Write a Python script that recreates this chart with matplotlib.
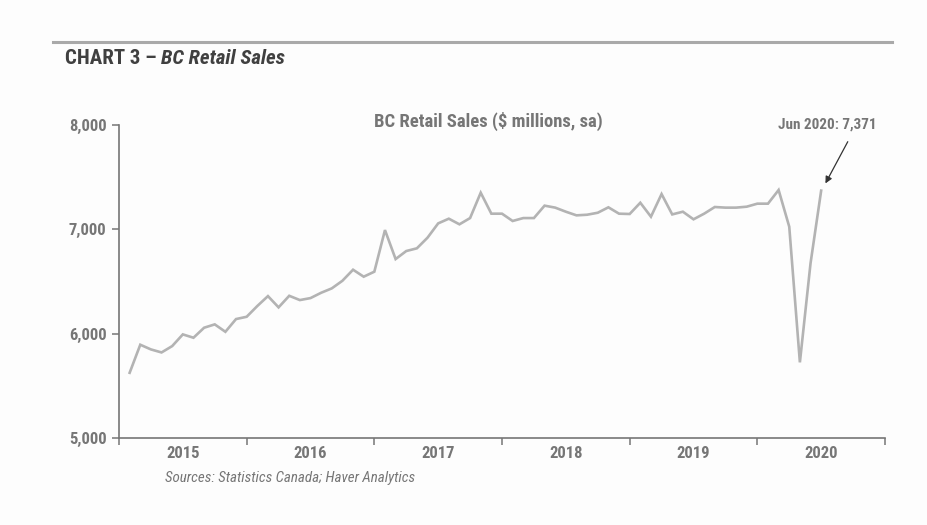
import numpy as np
import matplotlib.pyplot as plt

# BC retail sales, $ millions sa, Jan 2015 - Jun 2020
sales = [
    5625, 5894, 5849, 5820, 5881, 5993, 5961, 6057, 6089, 6018, 6140, 6162,
    6265, 6360, 6252, 6363, 6322, 6341, 6392, 6434, 6507, 6613, 6546, 6594,
    6993, 6715, 6792, 6818, 6920, 7057, 7102, 7048, 7108, 7351, 7150, 7150,
    7080, 7108, 7108, 7227, 7208, 7169, 7134, 7140, 7159, 7211, 7150, 7147,
    7255, 7121, 7338, 7143, 7169, 7096, 7150, 7214, 7208, 7208, 7217, 7246,
    7246, 7377, 7025, 5725, 6674, 7371,
]
years = ["2015", "2016", "2017", "2018", "2019", "2020"]
y_ticks = [5000, 6000, 7000, 8000]

GRAY = "#767676"
LINE = "#b3b3b3"
FONT = ["Roboto Condensed", "Liberation Sans Narrow", "Roboto", "DejaVu Sans"]

plt.rcParams["font.family"] = FONT
plt.rcParams["font.stretch"] = "condensed"

fig = plt.figure(figsize=(9.28, 5.25), dpi=100)
fig.patch.set_facecolor("#fdfdfd")
ax = fig.add_axes([119 / 928, 1 - 438 / 525, (885 - 119) / 928, (438 - 125) / 525])
ax.set_facecolor("#fdfdfd")

# each point sits at the end of its month
x = np.arange(1, len(sales) + 1)
ax.plot(x, sales, color=LINE, lw=1.9, solid_joinstyle="miter")

ax.set_xlim(0, 12 * len(years))
ax.set_ylim(5000, 8000)

ax.set_yticks(y_ticks)
ax.set_yticklabels([f"{v:,}" for v in y_ticks])
ax.set_xticks(np.arange(0, 12 * len(years) + 1, 12))
ax.set_xticklabels([])
ax.set_xticks(np.arange(6, 12 * len(years), 12), minor=True)
ax.set_xticklabels(years, minor=True)
ax.tick_params(axis="x", which="minor", length=0, pad=6)
ax.tick_params(axis="y", pad=4)
ax.tick_params(which="major", length=5, width=1.1, color=GRAY, direction="out")
ax.tick_params(which="both", labelsize=12, labelcolor=GRAY)
for lbl in ax.get_xticklabels(minor=True) + ax.get_yticklabels():
    lbl.set_fontweight("bold")

for side in ["top", "right"]:
    ax.spines[side].set_visible(False)
for side in ["left", "bottom"]:
    ax.spines[side].set_color(GRAY)
    ax.spines[side].set_linewidth(1.2)

ax.text(0.482, 1.01, "BC Retail Sales ($ millions, sa)", transform=ax.transAxes,
        ha="center", va="center", fontsize=13.4, fontweight="bold", color=GRAY)

ax.text(66.6, 8000, "Jun 2020: 7,371", ha="center", va="center",
        fontsize=10.9, fontweight="bold", color=GRAY)
ax.annotate("", xy=(66.4, 7440), xytext=(68.5, 7840),
            arrowprops=dict(arrowstyle="-|>", color="#333333", lw=0.9,
                            mutation_scale=10, shrinkA=0, shrinkB=0))

# header rule and chart label
fig.add_artist(plt.Line2D([53 / 928, 892 / 928], [1 - 42 / 525] * 2,
                          color="#a9a9a9", lw=2.2))
head = fig.text(65 / 928, 1 - 59 / 525, "CHART 3 – ", fontsize=15, fontweight="bold",
                color="#404040", va="center")
fig.canvas.draw()
bb = head.get_window_extent(fig.canvas.get_renderer())
fig.text(bb.x1 / fig.bbox.width, 1 - 59 / 525, "BC Retail Sales", fontsize=15,
         fontweight="bold", style="italic", color="#404040", va="center")
fig.text(165 / 928, 1 - 478 / 525, "Sources: Statistics Canada; Haver Analytics",
         fontsize=10.8, style="italic", color=GRAY, va="center")

fig.savefig("out.png", dpi=100, facecolor=fig.get_facecolor())
